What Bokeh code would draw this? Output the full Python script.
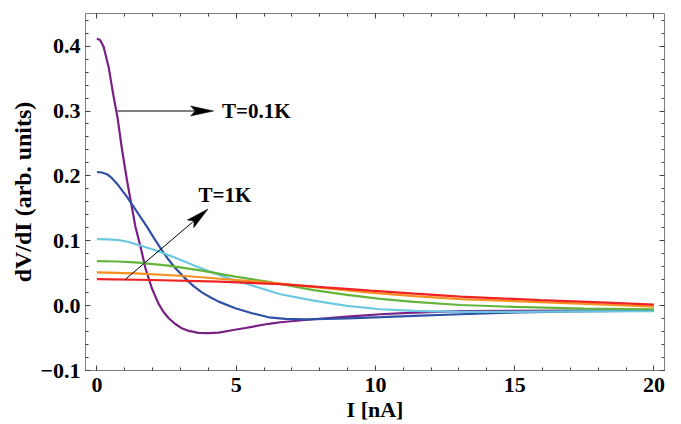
import numpy as np
from bokeh.plotting import figure
from bokeh.models import Range1d, LinearAxis, FixedTicker, CustomJSTickFormatter
from bokeh.embed import file_html
from bokeh.resources import INLINE
from bokeh.core.properties import value

# ---------------- data ----------------
purple_I = [0, 0.12, 0.24, 0.42, 0.6, 0.74, 0.9, 1.08, 1.22, 1.38, 1.56, 1.74, 1.98, 2.21, 2.38,
            2.57, 2.8, 3.05, 3.3, 3.65, 4.0, 4.37, 4.85, 5.33, 6.17, 6.59, 7.78, 8.98, 10.18,
            11.38, 13.05, 15, 17.5, 20]
purple_y = [0.412, 0.409, 0.399, 0.368, 0.322, 0.29, 0.241, 0.193, 0.16, 0.122, 0.092, 0.058,
            0.026, 0.003, -0.009, -0.019, -0.028, -0.035, -0.039, -0.042, -0.0425, -0.0415,
            -0.038, -0.0345, -0.028, -0.0256, -0.021, -0.017, -0.0133, -0.0108, -0.0085,
            -0.0082, -0.0075, -0.0068]

blue_I = [0, 0.18, 0.36, 0.54, 0.72, 1.08, 1.44, 1.8, 2.05, 2.33, 2.55, 2.81, 3.17, 3.47, 3.77,
          4.07, 4.37, 4.97, 5.57, 6.17, 6.77, 7.5, 8.98, 10.2, 11.38, 13.05, 14.75, 17, 20]
blue_y = [0.206, 0.2052, 0.2026, 0.1965, 0.188, 0.1677, 0.1446, 0.1215, 0.104, 0.0857, 0.072,
          0.058, 0.042, 0.030, 0.0205, 0.013, 0.0062, -0.004, -0.0117, -0.018, -0.0205,
          -0.0212, -0.0195, -0.0178, -0.0158, -0.0133, -0.011, -0.009, -0.0077]

cyan_I = [0, 0.4, 0.78, 1.1, 1.5, 1.9, 2.33, 2.75, 3.17, 3.6, 4.01, 4.73, 5.57, 6.59, 7.78, 8.98,
          10.18, 11.38, 13.05, 15, 17.5, 20]
cyan_y = [0.1026, 0.1022, 0.101, 0.0985, 0.0934, 0.088, 0.082, 0.075, 0.0677, 0.060, 0.0534,
          0.042, 0.031, 0.0175, 0.0077, -0.0005, -0.0056, -0.0082, -0.0095, -0.0095, -0.009,
          -0.0087]

green_I = [0, 0.7, 1.38, 2.57, 3.77, 4.97, 6.17, 6.68, 7.78, 8.98, 10.18, 11.38, 13.05, 15,
           17.5, 20]
green_y = [0.0687, 0.068, 0.0667, 0.0616, 0.0539, 0.0447, 0.0365, 0.0325, 0.024, 0.0165,
           0.0103, 0.0057, 0.001, -0.002, -0.0045, -0.0056]

orange_I = [0, 1.38, 3.17, 4.97, 6.59, 8.2, 9.82, 11.4, 13.05, 15.9, 18.3, 20]
orange_y = [0.0513, 0.0498, 0.0457, 0.0395, 0.034, 0.027, 0.020, 0.0145, 0.010, 0.0055,
            0.0015, -0.0015]

red_I = [0, 1.98, 4.37, 6.59, 8.2, 9.82, 11.4, 13.05, 15.9, 18.3, 20]
red_y = [0.041, 0.0395, 0.037, 0.033, 0.028, 0.023, 0.0185, 0.0139, 0.0085, 0.0045, 0.0015]

series = [
    (purple_I, purple_y, "#7a1f86"),
    (blue_I, blue_y, "#3050a5"),
    (cyan_I, cyan_y, "#6cc8e0"),
    (green_I, green_y, "#64b43c"),
    (orange_I, orange_y, "#f7901e"),
    (red_I, red_y, "#ee2222"),
]

# annotations
arrow_x0 = [0.74, 1.02]
arrow_y0 = [0.30, 0.0405]
arrow_x1 = [4.19, 3.99]
arrow_y1 = [0.30, 0.149]
label_text = ["T=0.1K", "T=1K"]
label_x = [4.49, 3.65]
label_y = [0.30, 0.170]

# ticks
x_major = [0, 5, 10, 15, 20]
x_minor = list(range(0, 21))
y_major = [-0.1, 0.0, 0.1, 0.2, 0.3, 0.4]
y_minor = [round(-0.1 + 0.02 * k, 2) for k in range(28)]

# ---------------- figure ----------------
W, H = 681, 424
BL, BR, BT, BB = 85, 17, 13, 53
x_lo, x_hi = -0.41, 20.38
y_lo, y_hi = -0.1, 0.4503

p = figure(width=W, height=H, output_backend="svg", toolbar_location=None,
           x_range=Range1d(x_lo, x_hi), y_range=Range1d(y_lo, y_hi),
           min_border_left=BL, min_border_right=BR, min_border_top=BT,
           min_border_bottom=BB, x_axis_location=None, y_axis_location=None)
p.xgrid.visible = False
p.ygrid.visible = False
p.outline_line_color = "#808080"
p.outline_line_width = 1
p.background_fill_color = "white"
p.border_fill_color = "white"

FONT = "Liberation Serif"


def make_axis(ticks, minor, fmt_code, label=None, show_labels=True, label_size="22px"):
    ax = LinearAxis(ticker=FixedTicker(ticks=ticks, minor_ticks=minor))
    ax.axis_line_color = None
    ax.major_tick_in = 5
    ax.major_tick_out = 0
    ax.minor_tick_in = 3
    ax.minor_tick_out = 0
    ax.major_tick_line_color = "#404040"
    ax.minor_tick_line_color = "#404040"
    ax.major_tick_line_width = 1
    ax.minor_tick_line_width = 1
    if show_labels:
        ax.formatter = CustomJSTickFormatter(code=fmt_code)
        ax.major_label_text_font = FONT
        ax.major_label_text_font_style = "bold"
        ax.major_label_text_font_size = "22px"
        ax.major_label_text_color = "black"
    else:
        ax.formatter = CustomJSTickFormatter(code="return '';")
        ax.major_label_text_font_size = "0px"
        ax.major_label_standoff = 0
    if label:
        ax.axis_label = label
        ax.axis_label_text_font = FONT
        ax.axis_label_text_font_style = "bold"
        ax.axis_label_text_font_size = label_size
        ax.axis_label_text_color = "black"
    return ax


xfmt = "return tick.toFixed(0);"
yfmt = "return tick.toFixed(1).replace('-', '\u2212');"

bottom = make_axis(x_major, x_minor, xfmt, label="I [nA]")
bottom.major_label_standoff = 7
bottom.axis_label_standoff = 2
left = make_axis(y_major, y_minor, yfmt, label="dV/dI (arb. units)", label_size="24px")
left.major_label_standoff = 5
left.axis_label_standoff = 1
top = make_axis(x_major, x_minor, xfmt, show_labels=False)
right = make_axis(y_major, y_minor, yfmt, show_labels=False)

p.add_layout(bottom, "below")
p.add_layout(left, "left")
p.add_layout(top, "above")
p.add_layout(right, "right")

for xs, ys, c in series:
    p.line(xs, ys, line_color=c, line_width=2.2)

# ---------------- arrows ----------------
frame_w = W - BL - BR
frame_h = H - BT - BB
sx = frame_w / (x_hi - x_lo)
sy = frame_h / (y_hi - y_lo)
head_len, head_half, notch = 23.0, 5.0, 0.8
heads_x, heads_y, shaft_x1, shaft_y1 = [], [], [], []
for x0, y0, x1, y1 in zip(arrow_x0, arrow_y0, arrow_x1, arrow_y1):
    dx, dy = (x1 - x0) * sx, (y1 - y0) * sy
    L = np.hypot(dx, dy)
    ux, uy = dx / L, dy / L
    nx, ny = -uy, ux
    bx, by = -ux * head_len, -uy * head_len
    pts = [(0, 0),
           (bx + nx * head_half, by + ny * head_half),
           (bx * notch, by * notch),
           (bx - nx * head_half, by - ny * head_half)]
    heads_x.append([x1 + a / sx for a, b in pts])
    heads_y.append([y1 + b / sy for a, b in pts])
    shaft_x1.append(x1 + bx * notch / sx)
    shaft_y1.append(y1 + by * notch / sy)

p.segment(arrow_x0, arrow_y0, shaft_x1, shaft_y1, line_color="black", line_width=1)
p.patches(heads_x, heads_y, fill_color="black", line_color="black", line_width=0.5)

p.text(x=label_x, y=label_y, text=label_text, text_font=value(FONT),
       text_font_style="bold", text_font_size="21px", text_baseline="middle",
       text_align="left", text_color="black")

open("out.html", "w").write(file_html(p, INLINE))
